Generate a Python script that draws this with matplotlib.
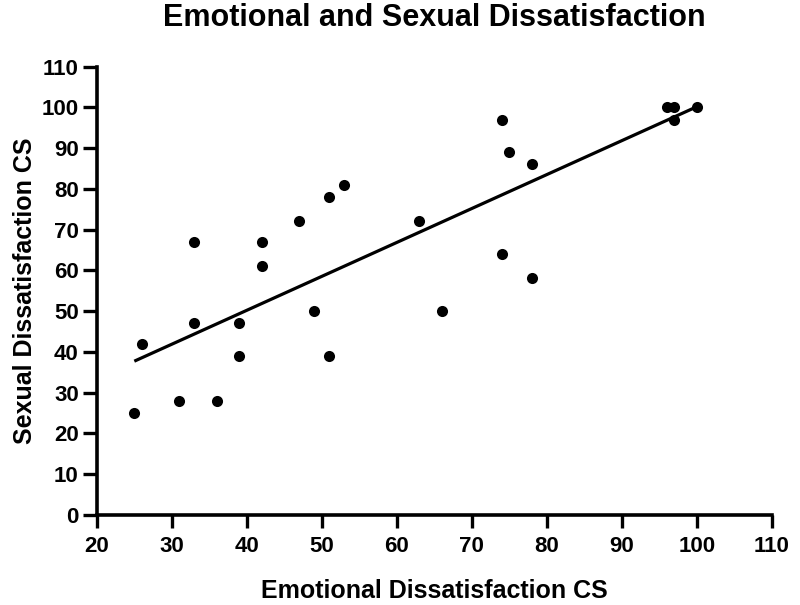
import matplotlib
matplotlib.use("Agg")
import matplotlib.pyplot as plt
import numpy as np

plt.rcParams['font.family'] = ['Liberation Sans', 'DejaVu Sans']

emotional = [25, 26, 31, 33, 33, 36, 39, 39, 42, 42, 47, 49, 51, 51, 53,
             63, 66, 74, 74, 75, 78, 78, 96, 97, 97, 100]
sexual = [25, 42, 28, 67, 47, 28, 47, 39, 67, 61, 72, 50, 78, 39, 81,
          72, 50, 97, 64, 89, 86, 58, 100, 100, 97, 100]
x_ticks = list(range(20, 111, 10))
y_ticks = list(range(0, 111, 10))

fig = plt.figure(figsize=(8, 6.05), dpi=100)
ax = fig.add_axes([0.121, 0.149, 0.844, 0.741])

ax.scatter(emotional, sexual, s=64, color='black', zorder=3, linewidths=0)
slope, intercept = np.polyfit(emotional, sexual, 1)
xl = np.array([min(emotional), max(emotional)])
ax.plot(xl, slope * xl + intercept, color='black', lw=2.3, solid_capstyle='butt')

ax.set_xlim(20, 110)
ax.set_ylim(0, 110)
ax.set_xticks(x_ticks)
ax.set_yticks(y_ticks)
for s in ['top', 'right']:
    ax.spines[s].set_visible(False)
for s in ['left', 'bottom']:
    ax.spines[s].set_linewidth(2.6)
    ax.spines[s].set_capstyle('projecting')
ax.tick_params(axis='x', length=9, width=2.4, direction='out', pad=6, labelsize=16)
ax.tick_params(axis='y', length=10, width=2.4, direction='out', pad=3, labelsize=16)
for lab in ax.get_xticklabels() + ax.get_yticklabels():
    lab.set_fontweight('bold')

ax.set_xlabel('Emotional Dissatisfaction CS', fontsize=18, fontweight='bold')
ax.xaxis.set_label_coords(0.5, -0.143)
ax.set_ylabel('Sexual Dissatisfaction CS', fontsize=18, fontweight='bold')
ax.yaxis.set_label_coords(-0.088, 0.5)
fig.text(0.543, 1 - 26 / 605, 'Emotional and Sexual Dissatisfaction',
         fontsize=22, fontweight='bold', ha='center', va='baseline')

fig.savefig('out.png', dpi=100)
